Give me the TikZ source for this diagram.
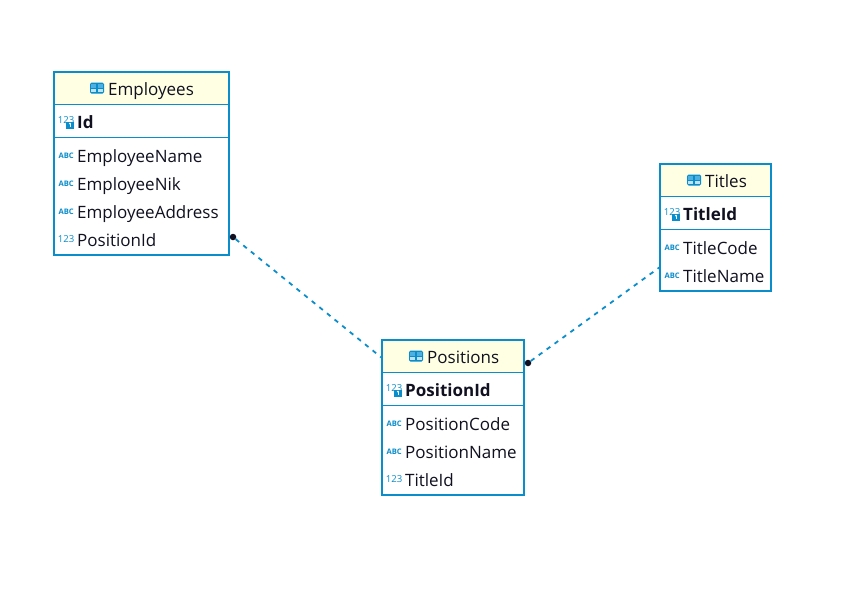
\documentclass[tikz,border=0pt]{standalone}
\usepackage{fontspec}
\setmainfont{Open Sans}
\usetikzlibrary{positioning}
\definecolor{tblblue}{HTML}{0A8DCB}
\definecolor{tblhead}{HTML}{FFFFE3}
\definecolor{tblink}{HTML}{101020}
\definecolor{tblcell}{HTML}{BFE3F5}
\definecolor{tbltop}{HTML}{4DB0E2}
\tikzset{
  tblbox/.style={fill=white, anchor=north west, inner sep=0pt, outer sep=0pt},
  tblborder/.style={draw=tblblue, line width=2pt},
  tblrule/.style={draw=tblblue, line width=1pt},
  tblname/.style={anchor=west, font=\fontsize{17}{18}\selectfont, text=tblink, inner sep=0pt, text height=13pt, text depth=4pt},
  rowname/.style={tblname},
  keyname/.style={rowname, font=\fontsize{17}{18}\selectfont\bfseries},
  numicon/.style={left=2.5pt of #1, yshift=2pt, font=\fontsize{9.6}{10}\selectfont, text=tblblue, inner sep=0pt},
  abcicon/.style={left=3pt of #1, yshift=1.5pt, font=\fontsize{7.6}{8}\selectfont\bfseries, text=tblblue, inner sep=0pt},
  keyicon/.style={left=2.5pt of #1, yshift=3.5pt, font=\fontsize{9.6}{10}\selectfont, text=tblblue, inner sep=0pt,
    append after command={\pgfextra{\fill[tblblue] ([xshift=-11pt,yshift=-4.5pt]#1.west) rectangle +(8,7);
      \fill[white] ([xshift=-7pt,yshift=0.5pt]#1.west) circle (1.2pt);
      \draw[white, line width=0.8pt] ([xshift=-7pt,yshift=0.5pt]#1.west) -- +(0,-3.8);}}},
  fkdot/.style={circle, fill=tblink, inner sep=0pt, minimum size=6.5pt},
  fkline/.style={draw=tblblue, line width=1.8pt, dash pattern=on 4.5pt off 5.3pt},
  pics/tblicon/.style={code={
    \fill[tblblue, rounded corners=1.5pt] (-7,-5.5) rectangle (7,5.5);
    \fill[tblcell] (-5.6,-4.2) rectangle (-0.6,-0.6);
    \fill[tblcell] (0.6,-4.2) rectangle (5.6,-0.6);
    \fill[tbltop] (-5.6,0.4) rectangle (-0.6,4);
    \fill[tbltop] (0.6,0.4) rectangle (5.6,4);
  }},
}
\begin{document}
\begin{tikzpicture}[x=1pt, y=1pt]
  \useasboundingbox (0,0) rectangle (861,-598);
  % tables
  \node[tblbox, minimum width=175pt, minimum height=183pt] (employees) at (54,-72) {};
  \node[tblbox, minimum width=142pt, minimum height=155pt] (positions) at (382,-340) {};
  \node[tblbox, minimum width=111pt, minimum height=127pt] (titles) at (660,-164) {};
  \fill[tblhead] (employees.north west) rectangle ([yshift=-32pt]employees.north east);
  \fill[tblhead] (positions.north west) rectangle ([yshift=-32pt]positions.north east);
  \fill[tblhead] (titles.north west) rectangle ([yshift=-32pt]titles.north east);
  \draw[tblrule] ([yshift=-32.5pt]employees.north west) -- ([yshift=-32.5pt]employees.north east)
    ([yshift=-65.5pt]employees.north west) -- ([yshift=-65.5pt]employees.north east);
  \draw[tblrule] ([yshift=-32.5pt]positions.north west) -- ([yshift=-32.5pt]positions.north east)
    ([yshift=-65.5pt]positions.north west) -- ([yshift=-65.5pt]positions.north east);
  \draw[tblrule] ([yshift=-32.5pt]titles.north west) -- ([yshift=-32.5pt]titles.north east)
    ([yshift=-65.5pt]titles.north west) -- ([yshift=-65.5pt]titles.north east);
  \draw[tblborder] (employees.north west) rectangle (employees.south east);
  \draw[tblborder] (positions.north west) rectangle (positions.south east);
  \draw[tblborder] (titles.north west) rectangle (titles.south east);
  % headers
  \node[tblname] (empHead) at (108,-91) {Employees};
  \node[tblname] (posHead) at (427,-359) {Positions};
  \node[tblname] (titHead) at (705,-183) {Titles};
  \pic at (97,-88) {tblicon};
  \pic at (416,-356) {tblicon};
  \pic at (694,-180) {tblicon};
  % Employees rows
  \node[keyname] (empId) at (77,-124) {Id};
  \node[rowname] (empName) at (77,-157.5) {EmployeeName};
  \node[rowname] (empNik) at (77,-185.5) {EmployeeNik};
  \node[rowname] (empAddr) at (77,-213.5) {EmployeeAddress};
  \node[rowname] (empPos) at (77,-241.5) {PositionId};
  \node[keyicon=empId] (empIdIcon) {123};
  \node[abcicon=empName] (empNameIcon) {ABC};
  \node[abcicon=empNik] (empNikIcon) {ABC};
  \node[abcicon=empAddr] (empAddrIcon) {ABC};
  \node[numicon=empPos] (empPosIcon) {123};
  % Positions rows
  \node[keyname] (posId) at (405,-392) {PositionId};
  \node[rowname] (posCode) at (405,-425.5) {PositionCode};
  \node[rowname] (posName) at (405,-453.5) {PositionName};
  \node[rowname] (posTit) at (405,-481.5) {TitleId};
  \node[keyicon=posId] (posIdIcon) {123};
  \node[abcicon=posCode] (posCodeIcon) {ABC};
  \node[abcicon=posName] (posNameIcon) {ABC};
  \node[numicon=posTit] (posTitIcon) {123};
  % Titles rows
  \node[keyname] (titId) at (683,-216) {TitleId};
  \node[rowname] (titCode) at (683,-249.5) {TitleCode};
  \node[rowname] (titName) at (683,-277.5) {TitleName};
  \node[keyicon=titId] (titIdIcon) {123};
  \node[abcicon=titCode] (titCodeIcon) {ABC};
  \node[abcicon=titName] (titNameIcon) {ABC};
  % relations
  \node[fkdot] (empDot) at (233,-237) {};
  \node[fkdot] (posDot) at (528,-363) {};
  \coordinate (posIn) at ([yshift=-18pt]positions.north west);
  \coordinate (titIn) at ([yshift=-103pt]titles.north west);
  \draw[fkline] (empDot) -- (posIn);
  \draw[fkline] (posDot) -- (titIn);
\end{tikzpicture}
\end{document}
